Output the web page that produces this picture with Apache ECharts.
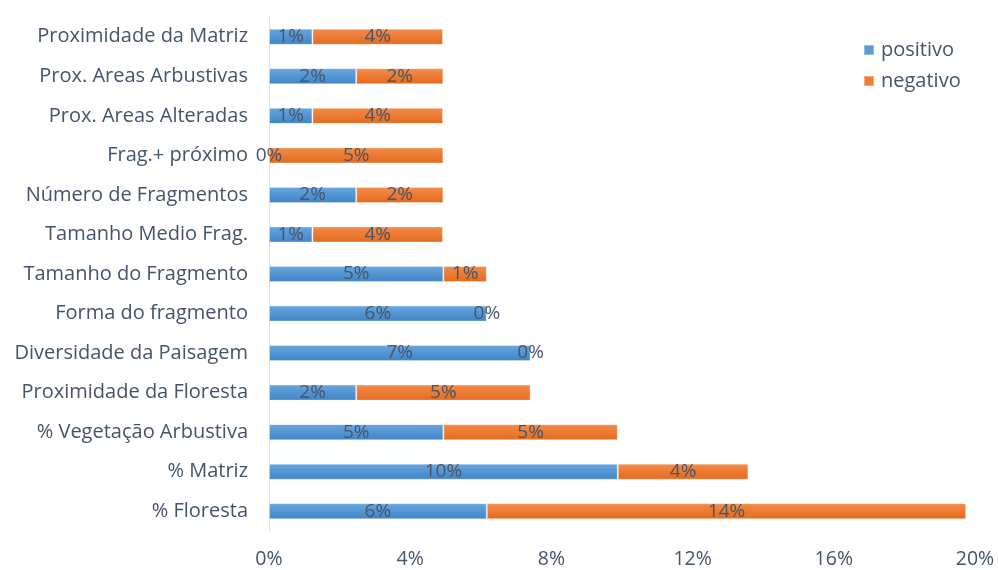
<!DOCTYPE html>
<html>
<head>
<meta charset="utf-8">
<script src="https://cdn.jsdelivr.net/npm/echarts@6/dist/echarts.min.js"></script>
<style>
  html, body { margin: 0; padding: 0; background: #fff; }
  #chart { width: 998px; height: 570px; }
</style>
</head>
<body>
<div id="chart"></div>
<script>
// Factors, listed bottom to top as the category axis draws them
const categories = [
  '% Floresta',
  '% Matriz',
  '% Vegetação Arbustiva',
  'Proximidade da Floresta',
  'Diversidade da Paisagem',
  'Forma do fragmento',
  'Tamanho do Fragmento',
  'Tamanho Medio Frag.',
  'Número de Fragmentos',
  'Frag.+ próximo',
  'Prox. Areas Alteradas',
  'Prox. Areas Arbustivas',
  'Proximidade da Matriz'
];

// Share of responses (%) per factor
const positivo = [6.17, 9.88, 4.94, 2.47, 7.41, 6.17, 4.94, 1.23, 2.47, 0.00, 1.23, 2.47, 1.23];
const negativo = [13.58, 3.70, 4.94, 4.94, 0.00, 0.00, 1.23, 3.70, 2.47, 4.94, 3.70, 2.47, 3.70];

// Percent axis ticks
const xTicks = [0, 4, 8, 12, 16, 20];

const FONT = '"Open Sans", "Noto Sans", sans-serif';
const TEXT = '#44546A';

const grad = (top, bottom) => new echarts.graphic.LinearGradient(0, 0, 0, 1, [
  { offset: 0, color: top }, { offset: 1, color: bottom }
]);

const blue = grad('#68A6DF', '#3F84C7');
const orange = grad('#F38C4B', '#E36A1C');

const labelCfg = {
  show: true,
  position: 'inside',
  formatter: p => Math.round(p.value) + '%',
  color: '#4A5568',
  fontFamily: FONT,
  fontSize: 19
};

const chart = echarts.init(document.getElementById('chart'), null, { renderer: 'canvas' });

chart.setOption({
  animation: false,
  backgroundColor: '#ffffff',
  textStyle: { fontFamily: FONT },
  grid: { left: 269, right: 23, top: 17, bottom: 39, containLabel: false },
  legend: {
    orient: 'vertical',
    left: 863,
    top: 40,
    padding: 0,
    itemWidth: 10,
    itemHeight: 10,
    itemGap: 11,
    icon: 'rect',
    textStyle: { color: TEXT, fontSize: 20, fontFamily: FONT, padding: [0, 0, 0, 2] },
    data: [
      { name: 'positivo', itemStyle: { color: '#5B9BD5' } },
      { name: 'negativo', itemStyle: { color: '#ED7D31' } }
    ]
  },
  xAxis: {
    type: 'value',
    min: xTicks[0],
    max: xTicks[xTicks.length - 1],
    interval: xTicks[1] - xTicks[0],
    axisLine: { show: false },
    axisTick: { show: false },
    splitLine: { show: false },
    axisLabel: {
      formatter: v => v + '%',
      color: TEXT,
      fontSize: 19.5,
      fontFamily: FONT,
      margin: 18
    }
  },
  yAxis: {
    type: 'category',
    data: categories,
    axisLine: { show: true, lineStyle: { color: '#D9DEE8', width: 1 } },
    axisTick: { show: false },
    axisLabel: {
      color: TEXT,
      fontSize: 20,
      fontFamily: FONT,
      margin: 21
    }
  },
  series: [
    {
      name: 'positivo',
      type: 'bar',
      stack: 'total',
      barWidth: 16,
      data: positivo,
      itemStyle: { color: blue, borderColor: 'rgba(255,255,255,0.35)', borderWidth: 1 },
      label: labelCfg
    },
    {
      name: 'negativo',
      type: 'bar',
      stack: 'total',
      barWidth: 16,
      data: negativo,
      itemStyle: { color: orange, borderColor: 'rgba(255,255,255,0.35)', borderWidth: 1 },
      label: labelCfg
    }
  ]
});
</script>
</body>
</html>
